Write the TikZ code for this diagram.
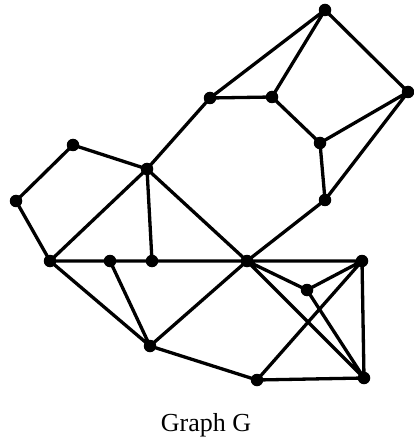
\documentclass[tikz,border=0pt]{standalone}
\usepackage{fontspec}
\setmainfont{Liberation Serif}
\begin{document}
\begin{tikzpicture}[x=1pt,y=-1pt,
  vtx/.style={circle,fill=black,inner sep=0pt,minimum size=12.5pt},
  edge/.style={line width=3.3pt,line cap=round}]
\useasboundingbox (0,0) rectangle (413,443);
\node[vtx] (A) at (325,10) {};
\node[vtx] (B) at (408,92) {};
\node[vtx] (C) at (210,98) {};
\node[vtx] (D) at (272,97) {};
\node[vtx] (E) at (320,143) {};
\node[vtx] (F) at (325,200) {};
\node[vtx] (G) at (147,169) {};
\node[vtx] (H) at (73,145) {};
\node[vtx] (I) at (16,201) {};
\node[vtx] (J) at (50,261) {};
\node[vtx] (K) at (110,261) {};
\node[vtx] (L) at (152,261) {};
\node[vtx] (M) at (247,261) {};
\node[vtx] (N) at (362,261) {};
\node[vtx] (O) at (307,290) {};
\node[vtx] (P) at (150,346) {};
\node[vtx] (Q) at (257,380) {};
\node[vtx] (R) at (364,378) {};
\draw[edge] (A.center)--(C.center) (A.center)--(D.center) (A.center)--(B.center)
  (C.center)--(D.center) (D.center)--(E.center) (E.center)--(B.center)
  (E.center)--(F.center) (B.center)--(F.center) (C.center)--(G.center)
  (G.center)--(H.center) (H.center)--(I.center) (I.center)--(J.center)
  (J.center)--(G.center) (G.center)--(L.center) (G.center)--(M.center)
  (J.center)--(M.center) (F.center)--(M.center)
  (M.center)--(N.center) (M.center)--(O.center) (O.center)--(N.center)
  (O.center)--(R.center) (M.center)--(R.center) (N.center)--(Q.center)
  (N.center)--(R.center) (Q.center)--(R.center) (M.center)--(P.center)
  (J.center)--(P.center) (K.center)--(P.center) (P.center)--(Q.center);
\node[font=\fontsize{26}{30}\selectfont,anchor=base] (T) at (206,431) {Graph G};
\end{tikzpicture}
\end{document}
